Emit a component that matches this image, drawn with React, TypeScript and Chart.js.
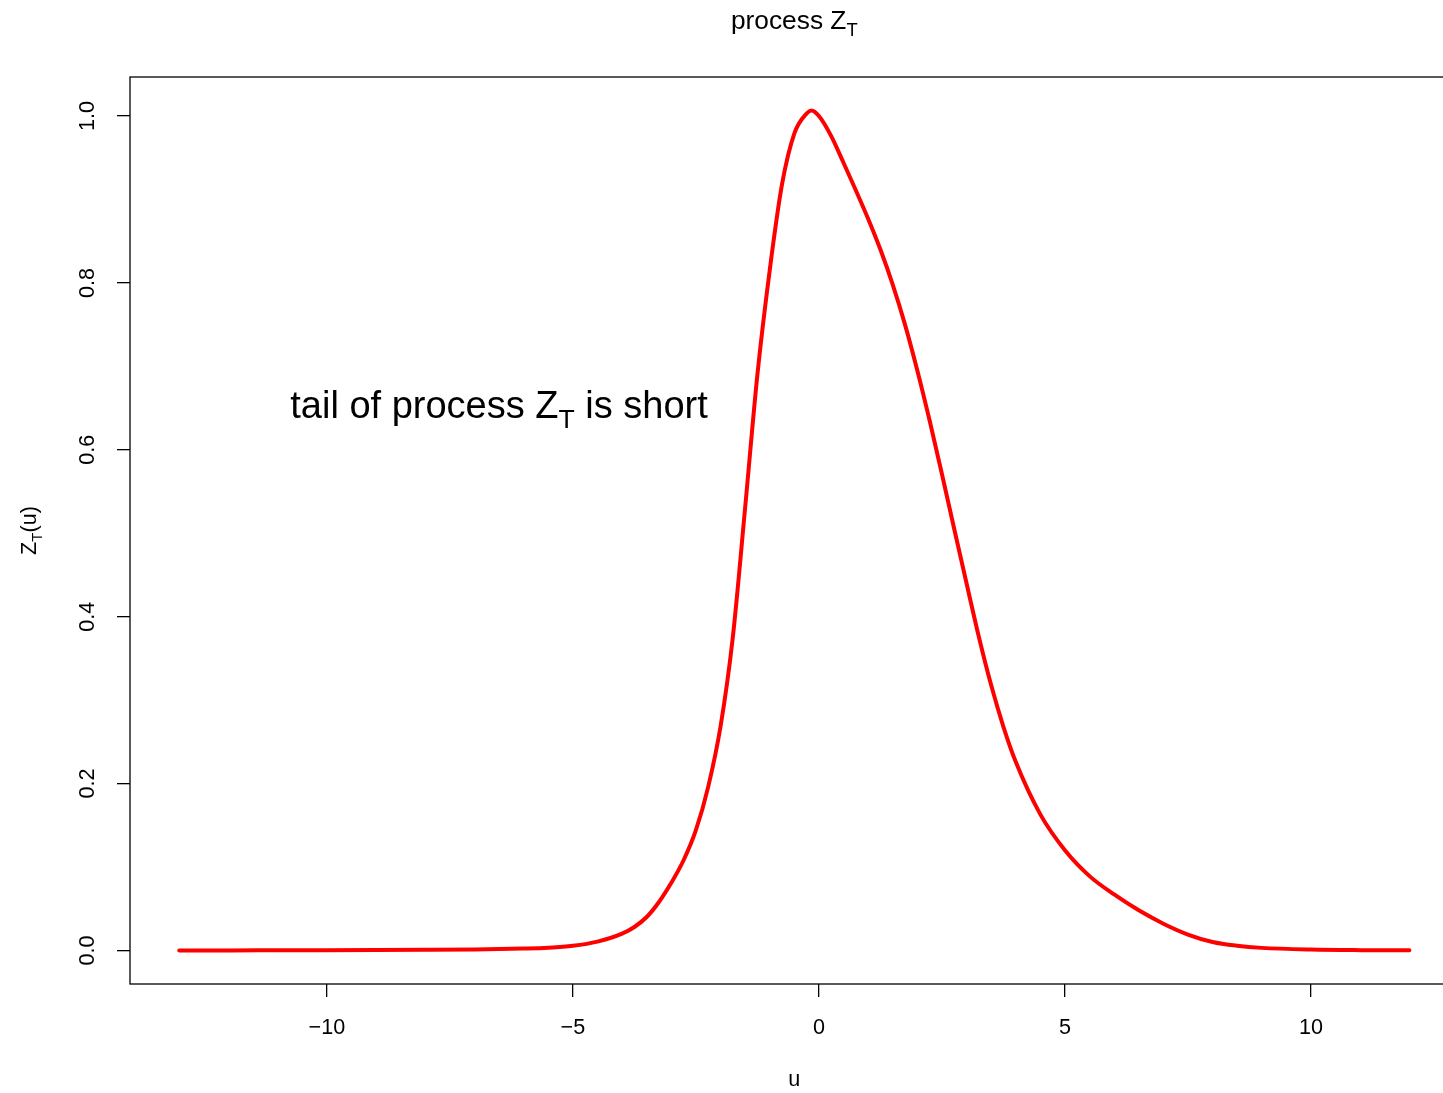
import React, { useEffect, useRef } from "react";
import { Chart, registerables } from "chart.js";

Chart.register(...registerables);

// ---- data ----
const uValues = [
  -13, -12, -11, -10, -9, -8, -7, -6, -5.5, -5, -4.5, -4, -3.75, -3.5, -3.25, -3,
  -2.75, -2.5, -2.25, -2, -1.75, -1.5, -1.25, -1, -0.75, -0.5, -0.25, -0.15, 0,
  0.25, 0.5, 0.75, 1, 1.25, 1.5, 1.75, 2, 2.25, 2.5, 2.75, 3, 3.25, 3.5, 3.75, 4,
  4.5, 5, 5.5, 6, 6.5, 7, 7.5, 8, 8.5, 9, 10, 11, 12,
];
const zValues = [
  0, 0, 0.0001, 0.0002, 0.0004, 0.0007, 0.0012, 0.0022, 0.0032, 0.0055, 0.0105, 0.02, 0.028, 0.04, 0.058, 0.081,
  0.108, 0.144, 0.196, 0.268, 0.375, 0.53, 0.69, 0.815, 0.918, 0.979, 1.003, 1.0065, 1.0,
  0.976, 0.944, 0.911, 0.877, 0.84, 0.798, 0.75, 0.695, 0.635, 0.571, 0.505, 0.44, 0.376, 0.318, 0.268, 0.226,
  0.163, 0.12, 0.089, 0.067, 0.048, 0.032, 0.019, 0.01, 0.0055, 0.003, 0.001, 0.0003, 0.0001,
];
const xTickValues = [-10, -5, 0, 5, 10];
const yTickValues = [0, 0.2, 0.4, 0.6, 0.8, 1.0];
const xLimits = [-14, 13];
const yLimits = [-0.0403, 1.0468];

const titleParts = [{ text: "process Z" }, { text: "T", sub: true }];
const yLabelParts = [{ text: "Z" }, { text: "T", sub: true }, { text: "(u)" }];
const xLabelParts = [{ text: "u" }];
const noteParts = [{ text: "tail of process Z" }, { text: "T", sub: true }, { text: " is short" }];
const noteU = -6.5;
const noteZ = 0.655;

const FONT = '"Liberation Sans", Arial, Helvetica, sans-serif';
const BASE = 21.6;

type Part = { text: string; sub?: boolean };

function drawMath(
  ctx: CanvasRenderingContext2D,
  parts: Part[],
  cx: number,
  cy: number,
  fs: number,
  rot: number
) {
  ctx.save();
  ctx.translate(cx, cy);
  ctx.rotate(rot);
  const subScale = 0.7;
  const f = (p: Part) => `${p.sub ? fs * subScale : fs}px ${FONT}`;
  let total = 0;
  const widths = parts.map((p) => {
    ctx.font = f(p);
    const w = ctx.measureText(p.text).width;
    total += w;
    return w;
  });
  let x = -total / 2;
  ctx.textAlign = "left";
  ctx.textBaseline = "alphabetic";
  ctx.fillStyle = "#000";
  const base = fs * 0.36;
  parts.forEach((p, i) => {
    ctx.font = f(p);
    ctx.fillText(p.text, x, base + (p.sub ? fs * 0.27 : 0));
    x += widths[i];
  });
  ctx.restore();
}

const decorPlugin = {
  id: "decor",
  afterDraw(chart: any) {
    const { ctx, chartArea, scales } = chart;
    const { left, right, top, bottom } = chartArea;
    ctx.save();
    ctx.strokeStyle = "#000";
    ctx.lineWidth = 1.3;
    ctx.strokeRect(left, top, right - left, bottom - top);
    ctx.restore();
    const cx = (left + right) / 2;
    drawMath(ctx, titleParts, cx, 19.5, 26.3, 0);
    drawMath(ctx, xLabelParts, cx, 1078, BASE, 0);
    drawMath(ctx, yLabelParts, 28, (top + bottom) / 2, BASE, -Math.PI / 2);
    drawMath(
      ctx,
      noteParts,
      scales.x.getPixelForValue(noteU),
      scales.y.getPixelForValue(noteZ),
      38,
      0
    );
  },
};

export default function App() {
  const canvasRef = useRef<HTMLCanvasElement | null>(null);

  useEffect(() => {
    const canvas = canvasRef.current;
    if (!canvas) return;
    const chart = new Chart(canvas, {
      type: "line",
      data: {
        datasets: [
          {
            data: uValues.map((u, i) => ({ x: u, y: zValues[i] })),
            borderColor: "#ff0000",
            borderWidth: 4,
            pointRadius: 0,
            fill: false,
            cubicInterpolationMode: "monotone",
            borderCapStyle: "round",
            borderJoinStyle: "round",
          },
        ],
      },
      options: {
        animation: false,
        responsive: false,
        devicePixelRatio: 1,
        layout: { padding: { left: 0, right: 1500 - 1458.6, top: 77, bottom: 0 } },
        plugins: { legend: { display: false }, title: { display: false }, tooltip: { enabled: false } },
        scales: {
          x: {
            type: "linear",
            min: xLimits[0],
            max: xLimits[1],
            afterBuildTicks: (axis: any) => {
              axis.ticks = xTickValues.map((v) => ({ value: v }));
            },
            afterFit: (axis: any) => {
              axis.height = 109;
            },
            grid: {
              drawOnChartArea: false,
              drawTicks: true,
              tickLength: 13,
              color: "#000",
              lineWidth: 1.3,
            },
            border: { display: false },
            ticks: {
              padding: 18,
              color: "#000",
              maxRotation: 0,
              autoSkip: false,
              font: { family: FONT, size: BASE },
              callback: (v: any) => (Number(v) < 0 ? "\u2212" + Math.abs(Number(v)) : String(v)),
            },
          },
          y: {
            type: "linear",
            min: yLimits[0],
            max: yLimits[1],
            afterBuildTicks: (axis: any) => {
              axis.ticks = yTickValues.map((v) => ({ value: v }));
            },
            afterFit: (axis: any) => {
              axis.width = 130;
            },
            grid: {
              drawOnChartArea: false,
              drawTicks: true,
              tickLength: 13,
              color: "#000",
              lineWidth: 1.3,
            },
            border: { display: false },
            ticks: {
              padding: 13.5,
              color: "#000",
              minRotation: 90,
              maxRotation: 90,
              crossAlign: "center",
              autoSkip: false,
              font: { family: FONT, size: BASE },
              callback: (v: any) => Number(v).toFixed(1),
            },
          },
        },
      },
      plugins: [decorPlugin],
    } as any);
    return () => chart.destroy();
  }, []);

  return (
    <div
      style={{
        position: "fixed",
        left: 0,
        top: 0,
        width: 1443,
        height: 1093,
        overflow: "hidden",
        background: "#fff",
      }}
    >
      <canvas ref={canvasRef} width={1500} height={1093} style={{ display: "block" }} />
    </div>
  );
}
